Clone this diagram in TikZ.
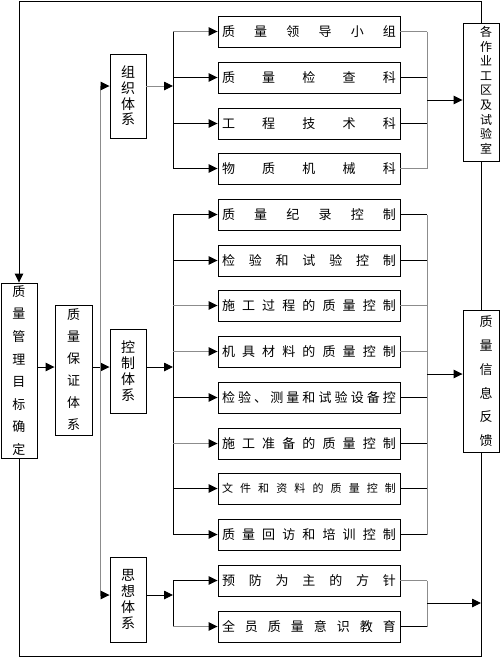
\documentclass[tikz,border=0pt]{standalone}
\usepackage{fontspec}
\setmainfont{Noto Sans CJK SC}
\usetikzlibrary{arrows.meta}
\begin{document}
\begin{tikzpicture}[x=1pt,y=-1pt,
  ln/.style={line width=0.9pt,draw=black},
  lng/.style={line width=0.9pt,draw=black!45},
  arr/.style={line width=0.9pt,draw=black,-{Triangle[length=9pt,width=8.5pt,color=black]}},
  arrg/.style={line width=0.9pt,draw=black!45,-{Triangle[length=9pt,width=8.5pt,color=black]}},
  vbox/.style={draw=black,line width=0.9pt,inner sep=0pt,align=center},
  hbox/.style={draw=black,line width=0.9pt,inner sep=0pt,minimum width=182pt,minimum height=31pt,font=\fontsize{13pt}{15pt}\selectfont}]
\useasboundingbox (0,0) rectangle (500,657);
% left column boxes
\node[vbox,minimum width=36pt,minimum height=175pt,font=\fontsize{13pt}{22.6pt}\selectfont] (goal) at (19,370.5) {质\\量\\管\\理\\目\\标\\确\\定};
\node[vbox,minimum width=37pt,minimum height=130pt,font=\fontsize{13pt}{22pt}\selectfont] (guar) at (73.5,370) {质\\量\\保\\证\\体\\系};
\node[vbox,minimum width=36pt,minimum height=84pt,font=\fontsize{14pt}{15.7pt}\selectfont] (org) at (128,96) {组\\织\\体\\系};
\node[vbox,minimum width=36pt,minimum height=84pt,font=\fontsize{14pt}{16pt}\selectfont] (ctrl) at (128,371) {控\\制\\体\\系};
\node[vbox,minimum width=36pt,minimum height=85pt,font=\fontsize{14pt}{16pt}\selectfont] (idea) at (128,599.5) {思\\想\\体\\系};
% right column boxes
\node[vbox,minimum width=36pt,minimum height=138pt,font=\fontsize{12pt}{14.6pt}\selectfont] (site) at (481,92) {\hspace*{10pt}\begin{tabular}{@{}c@{}}各\\作\\业\\工\\区\\及\\试\\验\\室\end{tabular}};
\node[vbox,minimum width=36pt,minimum height=139pt,font=\fontsize{13pt}{23.8pt}\selectfont] (info) at (481,381.5) {\hspace*{10pt}\begin{tabular}{@{}c@{}}质\\量\\信\\息\\反\\馈\end{tabular}};
% middle boxes
\node[hbox] (b1) at (309,31.5) {\makebox[174pt]{质\hfill 量\hfill 领\hfill 导\hfill 小\hfill 组}};
\node[hbox] (b2) at (309,77.5) {\makebox[174pt]{质\hfill 量\hfill 检\hfill 查\hfill 科}};
\node[hbox] (b3) at (309,123.5) {\makebox[174pt]{工\hfill 程\hfill 技\hfill 术\hfill 科}};
\node[hbox] (b4) at (309,168.5) {\makebox[174pt]{物\hfill 质\hfill 机\hfill 械\hfill 科}};
\node[hbox] (b5) at (309,214.5) {\makebox[174pt]{质\hfill 量\hfill 纪\hfill 录\hfill 控\hfill 制}};
\node[hbox] (b6) at (309,260.5) {\makebox[174pt]{检\hfill 验\hfill 和\hfill 试\hfill 验\hfill 控\hfill 制}};
\node[hbox] (b7) at (309,305.5) {\makebox[174pt]{施\hfill 工\hfill 过\hfill 程\hfill 的\hfill 质\hfill 量\hfill 控\hfill 制}};
\node[hbox] (b8) at (309,351.5) {\makebox[174pt]{机\hfill 具\hfill 材\hfill 料\hfill 的\hfill 质\hfill 量\hfill 控\hfill 制}};
\node[hbox] (b9) at (309,397.5) {\makebox[174pt]{检\hfill 验\hfill 、\hfill 测\hfill 量\hfill 和\hfill 试\hfill 验\hfill 设\hfill 备\hfill 控}};
\node[hbox] (b10) at (309,443.5) {\makebox[174pt]{施\hfill 工\hfill 准\hfill 备\hfill 的\hfill 质\hfill 量\hfill 控\hfill 制}};
\node[hbox,font=\fontsize{11pt}{13pt}\selectfont] (b11) at (309,488.5) {\makebox[174pt]{文\hfill 件\hfill 和\hfill 资\hfill 料\hfill 的\hfill 质\hfill 量\hfill 控\hfill 制}};
\node[hbox] (b12) at (309,534.5) {\makebox[174pt]{质\hfill 量\hfill 回\hfill 访\hfill 和\hfill 培\hfill 训\hfill 控\hfill 制}};
\node[hbox] (b13) at (309,580.5) {\makebox[174pt]{预\hfill 防\hfill 为\hfill 主\hfill 的\hfill 方\hfill 针}};
\node[hbox] (b14) at (309,626.5) {\makebox[174pt]{全\hfill 员\hfill 质\hfill 量\hfill 意\hfill 识\hfill 教\hfill 育}};
% outer loop
\coordinate (tl) at (19,1);
\coordinate (tr) at (481,1);
\coordinate (bl) at (19,656);
\coordinate (br) at (481,656);
\draw[ln] (site.north) -- (tr) -- (tl);
\draw[arr] (tl) -- (goal.north);
\draw[ln] (site.south) -- (info.north);
\draw[ln] (goal.south) -- (bl) -- (br) -- (info.south);
% goal -> guarantee -> systems
\coordinate (y367) at (0,367);
\draw[arr] (goal.east |- y367) -- (guar.west |- y367);
\draw[arr] (guar.east |- y367) -- (ctrl.west |- y367);
\coordinate (sp1) at (100,86);
\coordinate (sp3) at (100,595);
\draw[lng] (sp1) -- (sp3);
\draw[arrg] (sp1) -- (org.west |- sp1);
\draw[arrg] (sp3) -- (idea.west |- sp3);
% organisation group
\coordinate (oL) at (173,86);
\coordinate (oR) at (427,100);
\draw[arrg] (org.east |- oL) -- (oL);
\draw[ln] (b1.west -| oL) -- (b4.west -| oL);
\draw[arrg] (b1.west -| oL) -- (b1.west);
\draw[arr] (b2.west -| oL) -- (b2.west);
\draw[arr] (b3.west -| oL) -- (b3.west);
\draw[arr] (b4.west -| oL) -- (b4.west);
\draw[lng] (b1.east -| oR) -- (b4.east -| oR);
\draw[lng] (b1.east) -- (b1.east -| oR);
\draw[ln] (b2.east) -- (b2.east -| oR);
\draw[ln] (b3.east) -- (b3.east -| oR);
\draw[lng] (b4.east) -- (b4.east -| oR);
\draw[arr] (oR) -- (site.west |- oR);
% control group
\coordinate (cL) at (173,367);
\coordinate (cR) at (427,374);
\draw[arr] (ctrl.east |- cL) -- (cL);
\draw[ln] (b5.west -| cL) -- (b12.west -| cL);
\draw[arr] (b5.west -| cL) -- (b5.west);
\draw[arr] (b6.west -| cL) -- (b6.west);
\draw[arrg] (b7.west -| cL) -- (b7.west);
\draw[arrg] (b8.west -| cL) -- (b8.west);
\draw[arr] (b9.west -| cL) -- (b9.west);
\draw[arrg] (b10.west -| cL) -- (b10.west);
\draw[arr] (b11.west -| cL) -- (b11.west);
\draw[arr] (b12.west -| cL) -- (b12.west);
\draw[lng] (b5.east -| cR) -- (b12.east -| cR);
\draw[ln] (b5.east) -- (b5.east -| cR);
\draw[ln] (b6.east) -- (b6.east -| cR);
\draw[lng] (b7.east) -- (b7.east -| cR);
\draw[lng] (b8.east) -- (b8.east -| cR);
\draw[ln] (b9.east) -- (b9.east -| cR);
\draw[ln] (b10.east) -- (b10.east -| cR);
\draw[ln] (b11.east) -- (b11.east -| cR);
\draw[ln] (b12.east) -- (b12.east -| cR);
\draw[arr] (cR) -- (info.west |- cR);
% idea group
\coordinate (iL) at (173,595);
\coordinate (iR) at (427,603);
\draw[arr] (idea.east |- iL) -- (iL);
\draw[ln] (b13.west -| iL) -- (b14.west -| iL);
\draw[arr] (b13.west -| iL) -- (b13.west);
\draw[arrg] (b14.west -| iL) -- (b14.west);
\draw[lng] (b13.east -| iR) -- (b14.east -| iR);
\draw[lng] (b13.east) -- (b13.east -| iR);
\draw[ln] (b14.east) -- (b14.east -| iR);
\draw[arr] (iR) -- (br |- iR);
\end{tikzpicture}
\end{document}
